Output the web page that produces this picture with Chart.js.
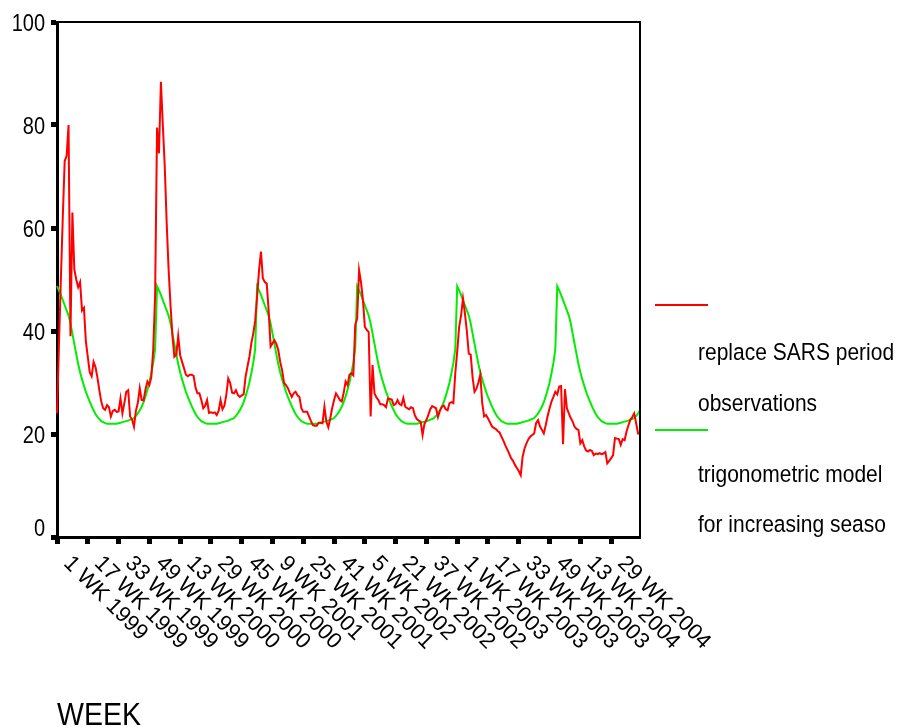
<!DOCTYPE html>
<html><head><meta charset="utf-8">
<script src="https://cdn.jsdelivr.net/npm/chart.js@4.4.0/dist/chart.umd.min.js"></script>
<style>html,body{margin:0;padding:0;background:#fff}#wrap{width:901px;height:727px;position:relative}</style>
</head><body><div id="wrap"><canvas id="c" width="901" height="727"></canvas></div>
<script>
// ---------- DATA ----------
const years = [1999, 2000, 2001, 2002, 2003, 2004];
const weeksPerYear = 52;
const weeksInLastYear = 44;

const obs1999 = [24,37,50,62,73,74,80,39,63,52, 50,48.5,49.5,44,44.5,38,35,32,31.2,34, 33,31,28.5,26.3,25,24.7,25.6,25.2,23.4,24.5, 24.7,24.3,24.4,26.9,24,26,28.2,28.5,23.4,22.8, 21.4,24.5,26,28.9,26.6,26.5,28.7,30.2,29.5,31, 36.3,47];
const obs2000 = [79.5,74.5,88.4,80,72,61,52,45,39,35, 35.4,39,35.3,34,32.8,31.5,31.2,31.5,31.5,31.3, 29,27.9,27.9,26.6,25,25.5,26.6,24.1,24.2,24.1, 24.2,23.7,24.5,26.6,24.8,25.5,27.6,30.8,29.9,28, 27.9,28.5,27.6,27.2,27.5,27.7,31.1,33.1,35,37.6, 39.5,42];
const obs2001 = [46.7,51.8,55.4,50.2,49.5,49.2,44,37,37.6,38.2, 37.5,36.3,34,32.4,29.9,29.5,28.9,28,27.2,27.9, 28.2,27.5,27.2,25,24.3,24.3,24.3,23.4,22.5,21.7, 21.6,21.6,22.2,22.2,22.1,25.3,22.4,21.3,23,25, 26.6,27.9,27.3,26.6,26.3,28,30.2,29.5,31.5,31.8, 31.4,41.2];
const obs2002 = [42.4,51.8,49.5,46,40.8,40.2,39.8,23.4,33.4,27.9, 27.1,26.6,25.8,25.8,25.6,25.2,26.9,26.8,26.7,25.6, 25.8,26.6,25.8,25.6,27,25.3,25,24.8,25.2,25, 23.6,22.9,22.6,22.4,19.8,22,22.7,23.7,24.8,25.4, 25.2,25,23.3,24.5,25.3,25.5,24.8,24.6,26,26.2, 26,31.8];
const obs2003 = [36,40.8,43,46.3,43.4,40,35.6,35.4,31,28.2, 28.8,30,31.5,26,23.4,23.7,23,22.3,21.5,21.2, 21,20.6,20.3,19.5,18.7,17.8,17,16.2,15.3,14.8, 14,13.4,12.8,12,15.6,17.2,18.2,19,19.5,19.8, 20.1,22.1,22.7,21.5,20.8,20.1,21.7,23.5,25,26.3, 27.2,28.2];
const obs2004 = [27.7,29.2,29.3,18,28.7,25,24,23.1,22.4,21.4, 21,20.8,18.2,18.8,17.6,16.8,16.6,16.9,16.7,15.9, 16.2,16.1,16.3,16.1,16.2,16.5,14.3,14.8,15.3,15.9, 19.2,19.1,19,17.9,19,18.8,20.5,21.7,22.8,23.3, 24,22.1,20.1,20.1];

const model1999 = [48.7,47.9,47.0,46.0,45.0,44.0,43.0,41.5,39.5,37.5, 35.5,33.6,32.0,30.6,29.4,28.2,27.2,26.3,25.4,24.6, 23.9,23.3,22.9,22.5,22.3,22.1,22.0,22.0,22.0,22.0, 22.0,22.0,22.1,22.2,22.3,22.4,22.5,22.6,22.8,22.9, 23.1,23.5,24.0,24.6,25.3,26.2,27.3,28.6,30.0,31.8, 33.8,36.5];
const model2000 = [48.7,47.9,47.0,46.0,45.0,44.0,43.0,41.5,39.5,37.5, 35.5,33.6,32.0,30.6,29.4,28.2,27.2,26.3,25.4,24.6, 23.9,23.3,22.9,22.5,22.3,22.1,22.0,22.0,22.0,22.0, 22.0,22.0,22.1,22.2,22.3,22.4,22.5,22.6,22.8,22.9, 23.1,23.5,24.0,24.6,25.3,26.2,27.3,28.6,30.0,31.8, 33.8,36.5];
const model2001 = [48.7,47.9,47.0,46.0,45.0,44.0,43.0,41.5,39.5,37.5, 35.5,33.6,32.0,30.6,29.4,28.2,27.2,26.3,25.4,24.6, 23.9,23.3,22.9,22.5,22.3,22.1,22.0,22.0,22.0,22.0, 22.0,22.0,22.1,22.2,22.3,22.4,22.5,22.6,22.8,22.9, 23.1,23.5,24.0,24.6,25.3,26.2,27.3,28.6,30.0,31.8, 33.8,36.5];
const model2002 = [48.7,47.9,47.0,46.0,45.0,44.0,43.0,41.5,39.5,37.5, 35.5,33.6,32.0,30.6,29.4,28.2,27.2,26.3,25.4,24.6, 23.9,23.3,22.9,22.5,22.3,22.1,22.0,22.0,22.0,22.0, 22.0,22.0,22.1,22.2,22.3,22.4,22.5,22.6,22.8,22.9, 23.1,23.5,24.0,24.6,25.3,26.2,27.3,28.6,30.0,31.8, 33.8,36.5];
const model2003 = [48.7,47.9,47.0,46.0,45.0,44.0,43.0,41.5,39.5,37.5, 35.5,33.6,32.0,30.6,29.4,28.2,27.2,26.3,25.4,24.6, 23.9,23.3,22.9,22.5,22.3,22.1,22.0,22.0,22.0,22.0, 22.0,22.0,22.1,22.2,22.3,22.4,22.5,22.6,22.8,22.9, 23.1,23.5,24.0,24.6,25.3,26.2,27.3,28.6,30.0,31.8, 33.8,36.5];
const model2004 = [48.7,47.9,47.0,46.0,45.0,44.0,43.0,41.5,39.5,37.5, 35.5,33.6,32.0,30.6,29.4,28.2,27.2,26.3,25.4,24.6, 23.9,23.3,22.9,22.5,22.3,22.1,22.0,22.0,22.0,22.0, 22.0,22.0,22.1,22.2,22.3,22.4,22.5,22.6,22.8,22.9, 23.1,23.5,24.0,24.6];

const tickLabels = ["1 WK 1999","17 WK 1999","33 WK 1999","49 WK 1999","13 WK 2000","29 WK 2000","45 WK 2000","9 WK 2001","25 WK 2001","41 WK 2001","5 WK 2002","21 WK 2002","37 WK 2002","1 WK 2003","17 WK 2003","33 WK 2003","49 WK 2003","13 WK 2004","29 WK 2004"];
const tickEvery = 16;
const yTickValues = [0, 20, 40, 60, 80, 100];
const legendLines = [["replace SARS period", "observations"], ["trigonometric model", "for increasing seaso"]];
const axisTitle = "WEEK";

// ---------- BUILD ----------
const categories = [];
years.forEach((y, yi) => {
  const n = yi === years.length - 1 ? weeksInLastYear : weeksPerYear;
  for (let w = 1; w <= n; w++) categories.push(w + " WK " + y);
});
const observations = [].concat(obs1999, obs2000, obs2001, obs2002, obs2003, obs2004);
const model = [].concat(model1999, model2000, model2001, model2002, model2003, model2004);

const FONT = '"Liberation Sans", Arial, sans-serif';
function stretchedText(ctx, txt, x, y, size, sy, align) {
  ctx.save();
  ctx.translate(x, y);
  ctx.scale(1, sy);
  ctx.font = size + 'px ' + FONT;
  ctx.textAlign = align;
  ctx.textBaseline = 'alphabetic';
  ctx.fillStyle = '#000';
  ctx.fillText(txt, 0, 0);
  ctx.restore();
}

const decor = {
  id: 'decor',
  afterDraw(chart) {
    const ctx = chart.ctx, a = chart.chartArea;
    const xs = chart.scales.x, ys = chart.scales.y;
    ctx.save();
    // frame top/right
    ctx.strokeStyle = '#000';
    ctx.lineWidth = 2;
    ctx.beginPath();
    ctx.moveTo(a.left, a.top); ctx.lineTo(a.right, a.top); ctx.lineTo(a.right, a.bottom);
    ctx.stroke();
    // y labels
    yTickValues.forEach(v => {
      let py = ys.getPixelForValue(v);
      if (v === yTickValues[0]) py -= 10;
      stretchedText(ctx, String(v), a.left - 12, py + 0.358 * 20 * 1.22, 20, 1.22, 'right');
    });
    // x labels, rotated
    ctx.fillStyle = '#000';
    ctx.font = '22px ' + FONT;
    ctx.textAlign = 'left';
    ctx.textBaseline = 'middle';
    tickLabels.forEach((t, i) => {
      const px = xs.getPixelForValue(i * tickEvery);
      ctx.save();
      ctx.translate(px + 10, a.bottom + 23);
      ctx.rotate(Math.PI / 4);
      ctx.fillText(t, 0, 0);
      ctx.restore();
    });
    // axis title
    stretchedText(ctx, axisTitle, 57, 725, 28.5, 1.08, 'left');
    // legend
    const ds = chart.data.datasets;
    const lineYs = [305, 430];
    const textBase = [[360, 410.7], [481.7, 531.7]];
    ds.forEach((d, k) => {
      ctx.strokeStyle = d.borderColor;
      ctx.lineWidth = 2;
      ctx.beginPath();
      ctx.moveTo(655, lineYs[k]); ctx.lineTo(708, lineYs[k]);
      ctx.stroke();
      legendLines[k].forEach((ln, j) => stretchedText(ctx, ln, 698, textBase[k][j], 21, 1.1, 'left'));
    });
    ctx.restore();
  }
};

new Chart(document.getElementById('c'), {
  type: 'line',
  data: {
    labels: categories,
    datasets: [
      { label: legendLines[0].join(' '), data: observations, borderColor: '#ff0000', borderWidth: 2, pointRadius: 0, tension: 0, fill: false },
      { label: legendLines[1].join(' '), data: model, borderColor: '#00ee00', borderWidth: 2, pointRadius: 0, tension: 0, fill: false }
    ]
  },
  options: {
    responsive: false, animation: false, devicePixelRatio: 1,
    layout: { padding: { top: 22, right: 261, bottom: 0, left: 0 } },
    plugins: { legend: { display: false }, tooltip: { enabled: false }, title: { display: false } },
    scales: {
      x: {
        type: 'category', offset: false,
        grid: { display: true, drawOnChartArea: false, drawTicks: true, tickLength: 7, tickWidth: 5, tickColor: '#000' },
        border: { display: true, color: '#000', width: 3 },
        ticks: { autoSkip: false, maxRotation: 0, minRotation: 0, padding: 0, callback: () => '' },
        afterBuildTicks: s => { s.ticks = s.ticks.filter(t => t.value % tickEvery === 0); },
        afterFit: s => { s.height = 190; }
      },
      y: {
        min: 0, max: 100,
        grid: { display: true, drawOnChartArea: false, tickLength: 6, tickWidth: 5, tickColor: '#000' },
        border: { display: true, color: '#000', width: 3 },
        ticks: { stepSize: 20, padding: 0, callback: () => '' },
        afterFit: s => { s.width = 57; }
      }
    }
  },
  plugins: [decor]
});
</script>
</body></html>
